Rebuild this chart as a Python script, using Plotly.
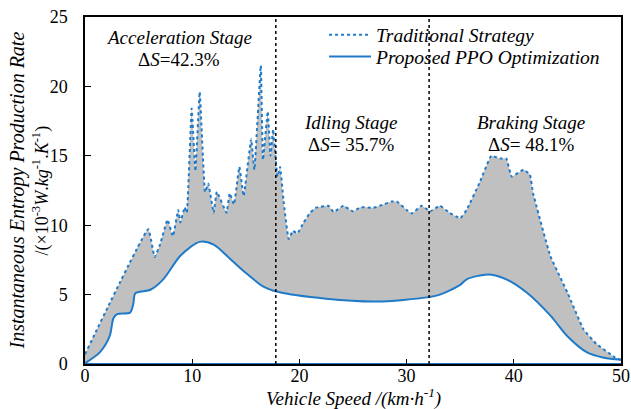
import plotly.graph_objects as go

# Traditional strategy (dotted upper curve)
trad_x = [0, 5.9, 6.5, 7.0, 7.7, 8.2, 8.7, 8.9, 9.3, 9.5, 9.95, 10.3, 10.7, 11.2, 11.5,
          12.0, 12.3, 13.2, 13.5, 13.9, 14.4, 14.8, 15.5, 15.8, 16.4, 16.6, 17.05, 17.3,
          17.55, 17.75, 17.95, 18.2, 18.5, 19.0, 19.4, 19.8, 20.4, 21.0, 21.5, 22.7, 23.2,
          24.1, 25.0, 25.7, 26.9, 27.5, 28.6, 29.1, 30.0, 30.5, 31.4, 32.2, 33.1, 34.0,
          35.0, 35.6, 36.8, 37.9, 38.7, 39.3, 39.8, 40.9, 41.5, 41.8, 43.4, 45.0, 46.5,
          47.7, 49.4, 50]
trad_y = [0.7, 9.7, 7.7, 8.6, 10.4, 9.2, 11.1, 10.2, 11.3, 10.9, 18.4, 13.9, 19.6, 12.4, 13.0,
          10.9, 12.4, 10.9, 12.3, 11.5, 14.2, 12.1, 16.2, 14.0, 21.5, 14.7, 18.2, 15.0,
          16.9, 15.1, 13.5, 14.2, 11.9, 9.0, 9.6, 9.4, 10.2, 10.9, 11.25, 11.4, 10.95,
          11.4, 11.0, 11.3, 11.25, 11.4, 11.7, 11.7, 11.1, 10.85, 11.4, 11.0, 11.4, 10.9,
          10.5, 11.1, 13.05, 15.0, 14.8, 14.8, 13.5, 14.0, 13.65, 12.3, 7.8, 5.15, 2.5,
          1.45, 0.5, 0.3]

# Proposed PPO optimization (solid lower curve)
ppo_x = [0, 1.4, 2.3, 2.65, 3.0, 4.2, 4.5, 4.7, 6.1, 7.3, 8.9, 10.7, 12.0, 13.5, 15.1,
         16.6, 18.0, 22.5, 27.2, 31.9, 33.1, 35.0, 35.6, 37.6, 39.3, 41.2, 43.4, 45.0,
         46.8, 48.4, 50]
ppo_y = [0.05, 0.85, 2.0, 3.3, 3.6, 3.7, 4.3, 5.1, 5.35, 6.1, 7.8, 8.8, 8.6, 7.6, 6.5,
         5.6, 5.2, 4.7, 4.5, 4.8, 5.0, 5.7, 6.1, 6.45, 6.1, 5.15, 3.5, 2.0,
         0.85, 0.45, 0.3]

baseline_x = [0, 50]
baseline_y = [0, 0]

stage_bounds = [17.8, 32.1]

stage_names = ["Acceleration Stage", "Idling Stage", "Braking Stage"]
stage_deltas = ["Δ<i>S</i>=42.3%", "Δ<i>S</i>= 35.7%", "Δ<i>S</i>= 48.1%"]
stage_label_x = [8.8, 24.8, 41.6]
stage_name_y = [23.5, 17.4, 17.4]
stage_delta_y = [21.95, 15.85, 15.85]

x_ticks = [0, 10, 20, 30, 40, 50]
y_ticks = [0, 5, 10, 15, 20, 25]

FONT = "Times New Roman, Liberation Serif, serif"
BLUE = "#1f7ac9"
FS = 18
FS_ANN = 19
FS_LEG = 19.5

fig = go.Figure()

fig.add_trace(go.Scatter(x=baseline_x, y=baseline_y, mode="lines",
                         line=dict(color=BLUE, width=2), showlegend=False, hoverinfo="skip"))

fig.add_trace(go.Scatter(x=ppo_x, y=ppo_y, mode="lines",
                         line=dict(color=BLUE, width=2, shape="spline", smoothing=0.8),
                         showlegend=False))

fig.add_trace(go.Scatter(x=trad_x, y=trad_y, mode="lines",
                         line=dict(color=BLUE, width=2, dash="dot", shape="spline", smoothing=0.3),
                         fill="tonexty", fillcolor="#c0c0c0", showlegend=False))

# legend entries (one per legend for exact placement)
fig.add_trace(go.Scatter(x=[None], y=[None], mode="lines", name="<i>Traditional Strategy</i>",
                         line=dict(color=BLUE, width=2, dash="dot"), legend="legend"))
fig.add_trace(go.Scatter(x=[None], y=[None], mode="lines", name="<i>Proposed PPO Optimization</i>",
                         line=dict(color=BLUE, width=2), legend="legend2"))

for xb in stage_bounds:
    fig.add_trace(go.Scatter(x=[xb, xb], y=[0, 25], mode="lines",
                             line=dict(color="black", width=1.5, dash="dot"),
                             showlegend=False, hoverinfo="skip"))

for i in range(3):
    fig.add_annotation(x=stage_label_x[i], y=stage_name_y[i], text="<i>" + stage_names[i] + "</i>",
                       showarrow=False, font=dict(family=FONT, size=FS_ANN, color="black"))
    fig.add_annotation(x=stage_label_x[i], y=stage_delta_y[i], text=stage_deltas[i],
                       showarrow=False, font=dict(family=FONT, size=FS_ANN, color="black"))

# axis titles as annotations
fig.add_annotation(x=0, y=0.5, xref="paper", yref="paper", xshift=-68, textangle=-90,
                   text="<i>Instantaneous Entropy Production Rate</i>", showarrow=False,
                   xanchor="center", yanchor="middle", font=dict(family=FONT, size=20, color="black"))
fig.add_annotation(x=0, y=0.5, xref="paper", yref="paper", xshift=-44, textangle=-90,
                   text="/(×10<sup>-3</sup><i>W</i>.<i>kg</i><sup>-1</sup>.<i>K</i><sup>-1</sup>)",
                   showarrow=False, xanchor="center", yanchor="middle",
                   font=dict(family=FONT, size=FS, color="black"))
fig.add_annotation(x=0.5, y=0, xref="paper", yref="paper", yshift=-33,
                   text="<i>Vehicle Speed /(km·h<sup>-1</sup>)</i>", showarrow=False,
                   xanchor="center", yanchor="middle", font=dict(family=FONT, size=19, color="black"))

leg_common = dict(xanchor="left", yanchor="middle", bgcolor="rgba(0,0,0,0)",
                  font=dict(family=FONT, size=FS_LEG, color="black"), itemwidth=42)

fig.update_layout(
    width=631, height=409,
    margin=dict(l=85, r=10, t=17, b=45),
    plot_bgcolor="white", paper_bgcolor="white",
    font=dict(family=FONT, size=FS, color="black"),
    showlegend=True,
    legend=dict(x=0.446, y=0.948, **leg_common),
    legend2=dict(x=0.446, y=0.885, **leg_common),
    xaxis=dict(range=[0, 50], tickvals=x_ticks, ticks="inside", ticklen=5, tickcolor="black",
               showgrid=False, zeroline=False, showline=True, linecolor="black", linewidth=1.5,
               mirror=True, automargin=False, tickfont=dict(family=FONT, size=FS, color="black"),
               ticklabelstandoff=-5),
    yaxis=dict(range=[0, 25], tickvals=y_ticks, ticks="inside", ticklen=6, tickcolor="black",
               showgrid=False, zeroline=False, showline=True, linecolor="black", linewidth=1.5,
               mirror=True, automargin=False, tickfont=dict(family=FONT, size=FS, color="black"),
               ticklabelstandoff=12),
)

fig.write_html("out.html", config={"displayModeBar": False},
               post_script="document.body.style.margin='0px';")
